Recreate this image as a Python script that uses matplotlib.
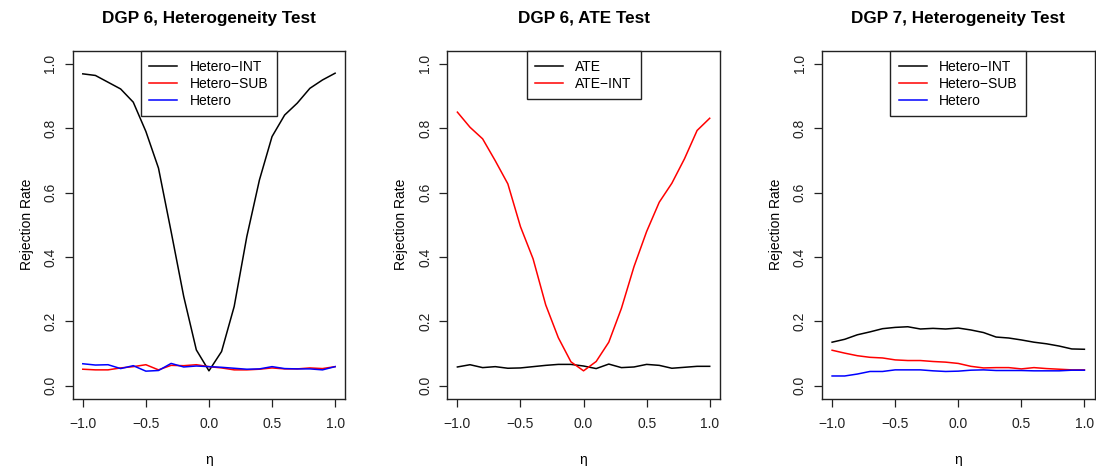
import numpy as np
import matplotlib
matplotlib.use("Agg")
import matplotlib.pyplot as plt

plt.rcParams['font.family'] = ['Liberation Sans', 'DejaVu Sans']

eta = [-1.0, -0.9, -0.8, -0.7, -0.6, -0.5, -0.4, -0.3, -0.2, -0.1, 0.0,
       0.1, 0.2, 0.3, 0.4, 0.5, 0.6, 0.7, 0.8, 0.9, 1.0]

# Panel 1: DGP 6, Heterogeneity Test
p1_hetero_int = [0.969, 0.964, 0.943, 0.922, 0.881, 0.790, 0.676, 0.479, 0.277, 0.111, 0.046,
                 0.106, 0.246, 0.463, 0.639, 0.774, 0.841, 0.878, 0.924, 0.950, 0.971]
p1_hetero_sub = [0.051, 0.049, 0.049, 0.055, 0.059, 0.065, 0.049, 0.063, 0.062, 0.065, 0.059,
                 0.055, 0.049, 0.049, 0.051, 0.055, 0.052, 0.052, 0.055, 0.053, 0.059]
p1_hetero = [0.068, 0.064, 0.065, 0.053, 0.062, 0.045, 0.047, 0.069, 0.058, 0.061, 0.059,
             0.057, 0.054, 0.051, 0.052, 0.059, 0.053, 0.052, 0.052, 0.049, 0.059]

# Panel 2: DGP 6, ATE Test
p2_ate = [0.058, 0.065, 0.056, 0.059, 0.054, 0.055, 0.059, 0.063, 0.066, 0.066, 0.061,
          0.053, 0.067, 0.056, 0.058, 0.066, 0.063, 0.054, 0.057, 0.060, 0.060]
p2_ate_int = [0.850, 0.803, 0.767, 0.699, 0.627, 0.494, 0.394, 0.251, 0.149, 0.074, 0.046,
              0.075, 0.135, 0.240, 0.370, 0.479, 0.570, 0.629, 0.705, 0.793, 0.831]

# Panel 3: DGP 7, Heterogeneity Test
p3_hetero_int = [0.135, 0.144, 0.158, 0.167, 0.177, 0.181, 0.183, 0.176, 0.178, 0.176, 0.179,
                 0.173, 0.165, 0.151, 0.148, 0.142, 0.135, 0.130, 0.123, 0.114, 0.113]
p3_hetero_sub = [0.110, 0.101, 0.093, 0.088, 0.086, 0.080, 0.078, 0.078, 0.075, 0.073, 0.069,
                 0.060, 0.055, 0.056, 0.056, 0.052, 0.056, 0.053, 0.051, 0.049, 0.049]
p3_hetero = [0.030, 0.030, 0.036, 0.044, 0.044, 0.049, 0.049, 0.049, 0.046, 0.044, 0.045,
             0.048, 0.049, 0.047, 0.047, 0.047, 0.046, 0.046, 0.046, 0.048, 0.048]

titles = ["DGP 6, Heterogeneity Test", "DGP 6, ATE Test", "DGP 7, Heterogeneity Test"]
x_ticks = [-1.0, -0.5, 0.0, 0.5, 1.0]
x_ticklabels = ["\u22121.0", "\u22120.5", "0.0", "0.5", "1.0"]
y_ticks = [0.0, 0.2, 0.4, 0.6, 0.8, 1.0]
y_ticklabels = ["0.0", "0.2", "0.4", "0.6", "0.8", "1.0"]

panels = [
    [("Hetero\u2212INT", p1_hetero_int, "black"),
     ("Hetero\u2212SUB", p1_hetero_sub, "red"),
     ("Hetero", p1_hetero, "blue")],
    [("ATE", p2_ate, "black"),
     ("ATE\u2212INT", p2_ate_int, "red")],
    [("Hetero\u2212INT", p3_hetero_int, "black"),
     ("Hetero\u2212SUB", p3_hetero_sub, "red"),
     ("Hetero", p3_hetero, "blue")],
]

W, H = 1096, 466
fig = plt.figure(figsize=(W / 100, H / 100), dpi=100)

lefts = [72.7, 447.3, 822.0]
width = 272.5
top = 51.0
bottom = 398.5

FS = 10.0
for k in range(3):
    ax = fig.add_axes([lefts[k] / W, (H - bottom) / H, width / W, (bottom - top) / H])
    for label, vals, col in panels[k]:
        ax.plot(eta, vals, color=col, lw=1.1, label=label)
    ax.set_xlim(-1.08, 1.08)
    ax.set_ylim(-0.04, 1.04)
    ax.set_xticks(x_ticks)
    ax.set_xticklabels(x_ticklabels)
    ax.set_yticks(y_ticks)
    ax.set_yticklabels(y_ticklabels, rotation=90, va='center')
    ax.tick_params(direction='out', length=6, width=0.9, labelsize=FS, colors='#222222')
    ax.tick_params(axis='x', pad=7)
    ax.tick_params(axis='y', pad=5)
    for s in ax.spines.values():
        s.set_linewidth(1.0)
        s.set_color('#222222')
    ax.set_ylabel("Rejection Rate", fontsize=FS, labelpad=7)
    ax.set_xlabel("\u03b7", fontsize=FS, labelpad=16)
    cx = (lefts[k] + width / 2) / W
    fig.text(cx, 1 - 22.7 / H, titles[k], ha='center', va='baseline',
             fontsize=12.3, fontweight='bold')
    leg = ax.legend(loc='upper center', borderaxespad=0, fancybox=False,
                    edgecolor='#222222', framealpha=1, fontsize=FS,
                    handlelength=2.0, handletextpad=0.9, borderpad=0.62,
                    labelspacing=0.22)
    leg.get_frame().set_linewidth(1.0)

fig.savefig("out.png", dpi=100)
